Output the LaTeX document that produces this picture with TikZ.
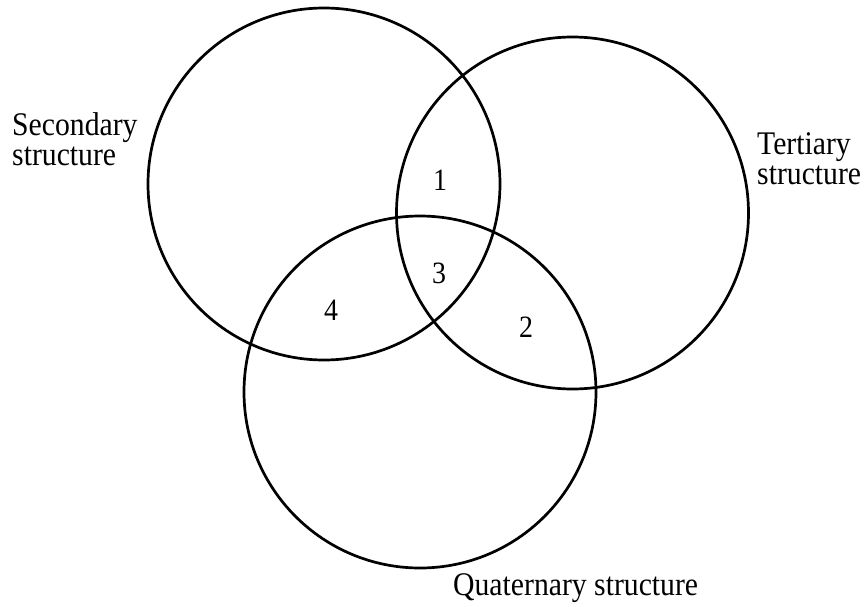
\documentclass[tikz,border=0pt]{standalone}
\usepackage{fontspec}
\setmainfont[FakeStretch=0.9]{Liberation Serif}
\begin{document}
\begin{tikzpicture}[x=1pt,y=-1pt,
  venn/.style={draw=black,line width=2.7pt,circle,inner sep=0pt,minimum size=352pt},
  lbl/.style={inner sep=0pt,align=left,anchor=base west,font=\fontsize{33}{30}\selectfont},
  num/.style={inner sep=0pt,font=\fontsize{31}{30}\selectfont}]
\useasboundingbox (0,0) rectangle (867,606);
\node[venn] (sec) at (324,184) {};
\node[venn] (ter) at (572.5,213) {};
\node[venn] (qua) at (420,392) {};
\node[lbl] (secl) at (12,165) {Secondary\\structure};
\node[lbl] (terl) at (757,184) {Tertiary\\structure};
\node[lbl] (qual) at (453,595) {Quaternary structure};
\node[num] (n1) at (440,180) {1};
\node[num] (n3) at (439,273) {3};
\node[num] (n4) at (331,310) {4};
\node[num] (n2) at (526,327) {2};
\end{tikzpicture}
\end{document}
